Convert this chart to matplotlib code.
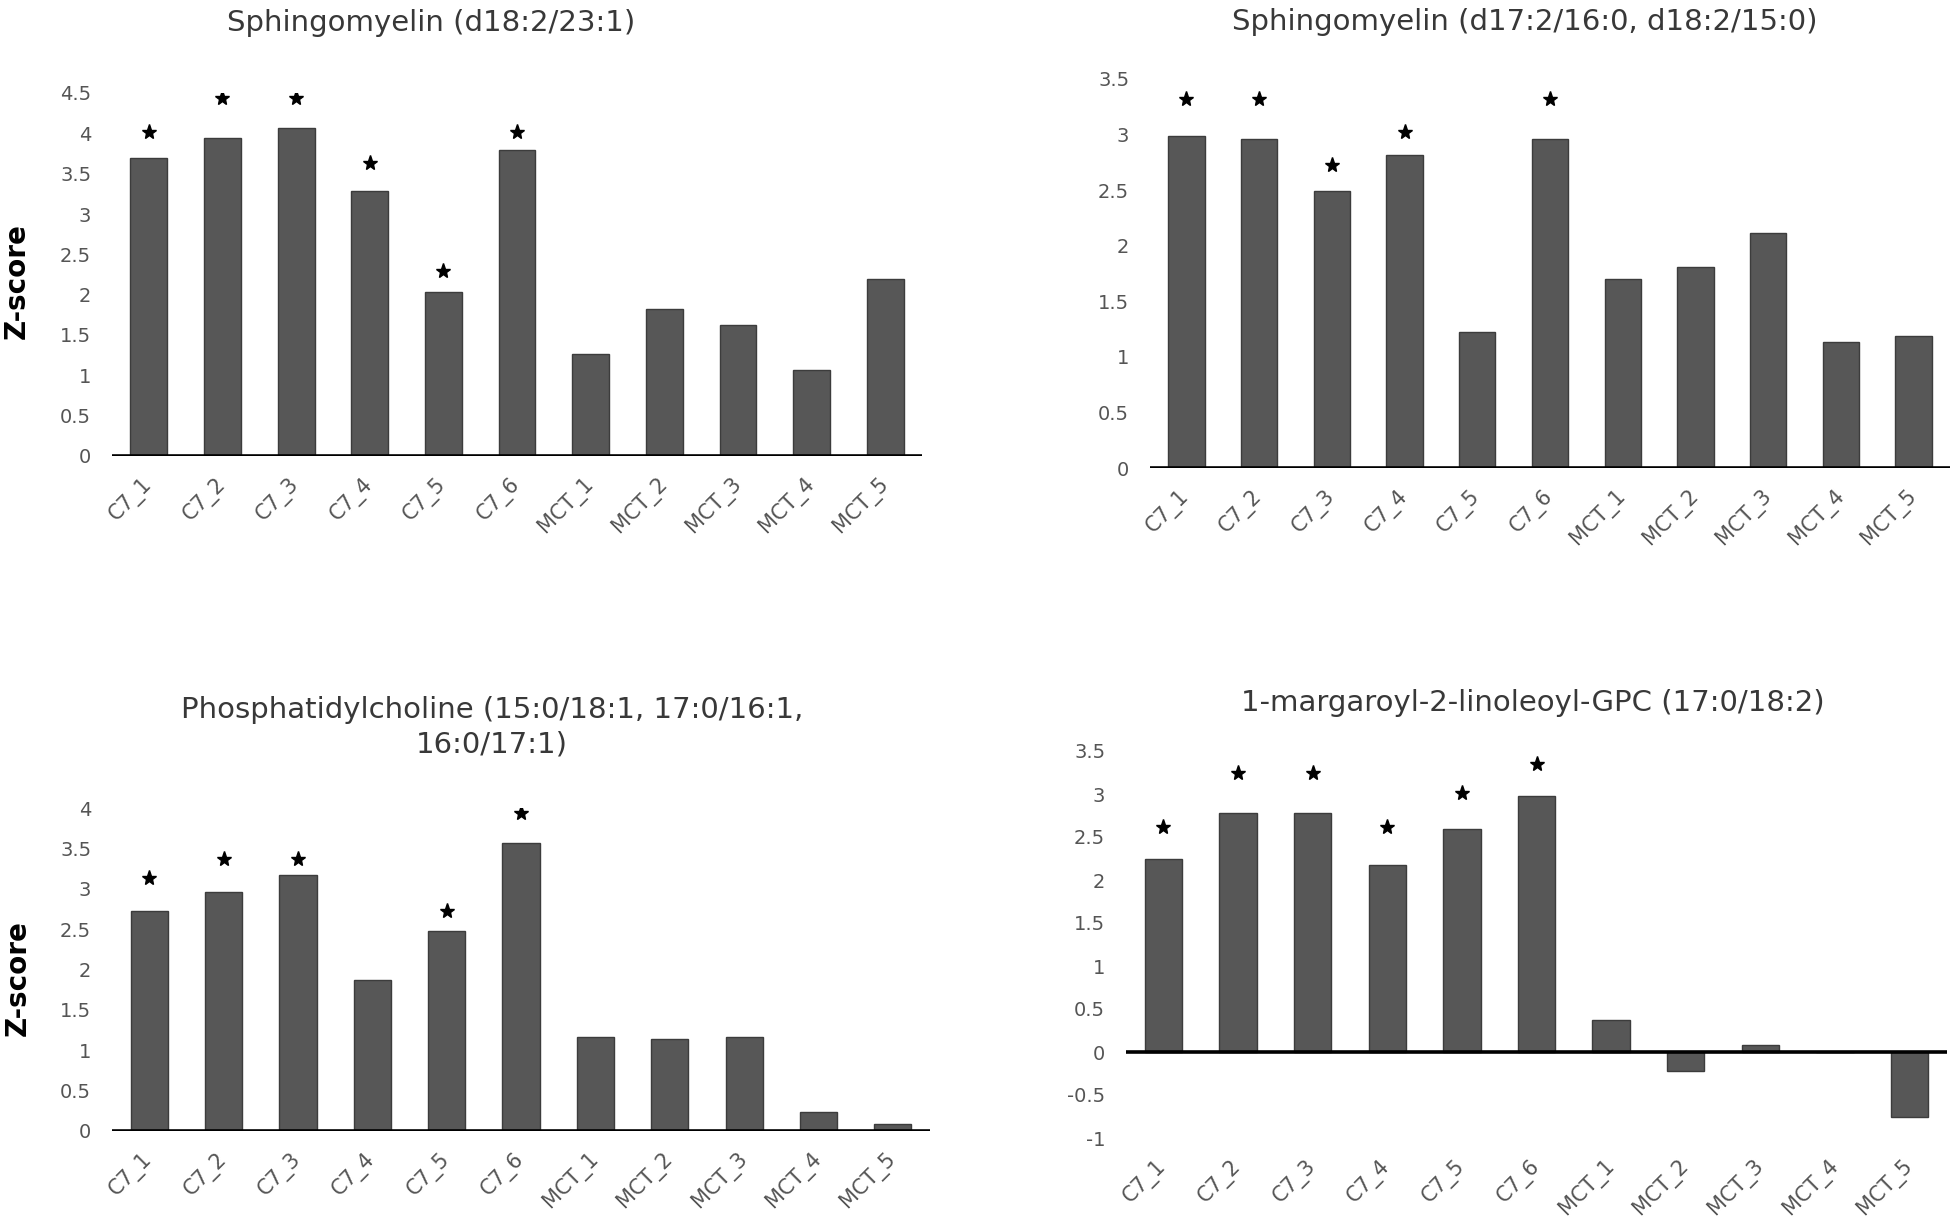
import matplotlib
matplotlib.use("Agg")
import matplotlib.pyplot as plt
import numpy as np

samples = ['C7_1', 'C7_2', 'C7_3', 'C7_4', 'C7_5', 'C7_6',
           'MCT_1', 'MCT_2', 'MCT_3', 'MCT_4', 'MCT_5']

title_sm23 = 'Sphingomyelin (d18:2/23:1)'
sm23 = [3.70, 3.94, 4.07, 3.29, 2.03, 3.79, 1.26, 1.82, 1.62, 1.06, 2.20]
star_sm23 = [4.02, 4.44, 4.44, 3.63, 2.29, 4.02, None, None, None, None, None]
yt_sm23 = [0, 0.5, 1, 1.5, 2, 2.5, 3, 3.5, 4, 4.5]

title_sm16 = 'Sphingomyelin (d17:2/16:0, d18:2/15:0)'
sm16 = [2.99, 2.96, 2.49, 2.82, 1.22, 2.96, 1.70, 1.81, 2.11, 1.13, 1.19]
star_sm16 = [3.32, 3.32, 2.73, 3.02, None, 3.32, None, None, None, None, None]
yt_sm16 = [0, 0.5, 1, 1.5, 2, 2.5, 3, 3.5]

title_pc = 'Phosphatidylcholine (15:0/18:1, 17:0/16:1,\n16:0/17:1)'
pc = [2.72, 2.96, 3.17, 1.87, 2.48, 3.57, 1.17, 1.14, 1.17, 0.24, 0.09]
star_pc = [3.13, 3.37, 3.37, None, 2.72, 3.94, None, None, None, None, None]
yt_pc = [0, 0.5, 1, 1.5, 2, 2.5, 3, 3.5, 4]

title_gpc = '1-margaroyl-2-linoleoyl-GPC (17:0/18:2)'
gpc = [2.24, 2.78, 2.78, 2.17, 2.59, 2.98, 0.375, -0.22, 0.08, 0.0, -0.755]
star_gpc = [2.62, 3.24, 3.24, 2.62, 3.01, 3.35, None, None, None, None, None]
yt_gpc = [-1, -0.5, 0, 0.5, 1, 1.5, 2, 2.5, 3, 3.5]

W, H = 1950, 1226
fig = plt.figure(figsize=(W / 100, H / 100), dpi=100)

BAR = '#575757'
EDGE = '#3c3c3c'
TICK = '#555555'
TITLE = '#383838'
TS = 14
XTS = 15
TTS = 21


def fmt(v):
    return ('%g' % v)


def panel(rect_px, vals, stars, yticks, title, title_xy, ylabel_xy=None):
    l, t, r, b = rect_px
    ax = fig.add_axes([l / W, 1 - b / H, (r - l) / W, (b - t) / H])
    x = np.arange(len(samples))
    ax.bar(x, vals, width=0.5, color=BAR, edgecolor=EDGE, linewidth=1, zorder=2)
    sx = [i for i, s in enumerate(stars) if s is not None]
    sy = [s for s in stars if s is not None]
    ax.plot(sx, sy, linestyle='none', marker='*', ms=11, color='black', zorder=3)
    ax.set_xlim(-0.5, len(samples) - 0.5)
    ax.set_ylim(yticks[0], yticks[-1])
    ax.set_yticks(yticks)
    ax.set_yticklabels([fmt(v) for v in yticks], fontsize=TS, color=TICK)
    ax.set_xticks(x)
    ax.set_xticklabels(samples, rotation=45, ha='right', va='center',
                       rotation_mode='anchor', fontsize=XTS, color=TICK)
    ax.tick_params(axis='both', length=0)
    ax.tick_params(axis='y', pad=15)
    ax.tick_params(axis='x', pad=18)
    for s in ['top', 'right', 'left', 'bottom']:
        ax.spines[s].set_visible(False)
    ax.axhline(0, color='black', linewidth=2.6, zorder=4)
    fig.text(title_xy[0] / W, 1 - title_xy[1] / H, title, ha='center',
             va='center', fontsize=TTS, color=TITLE, linespacing=1.3)
    if ylabel_xy is not None:
        fig.text(ylabel_xy[0] / W, 1 - ylabel_xy[1] / H, 'Z-score',
                 rotation=90, ha='center', va='center', fontsize=20,
                 fontweight='bold', color='black')
    return ax


panel((112, 93, 922, 456), sm23, star_sm23, yt_sm23, title_sm23, (431, 23), (17, 281))
panel((1150, 79, 1950, 468), sm16, star_sm16, yt_sm16, title_sm16, (1525, 22))
panel((112, 808, 930, 1131), pc, star_pc, yt_pc, title_pc, (492, 727), (18, 978))
panel((1126, 751, 1947, 1138), gpc, star_gpc, yt_gpc, title_gpc, (1533, 703))

fig.savefig('out.png', dpi=100, facecolor='white')
